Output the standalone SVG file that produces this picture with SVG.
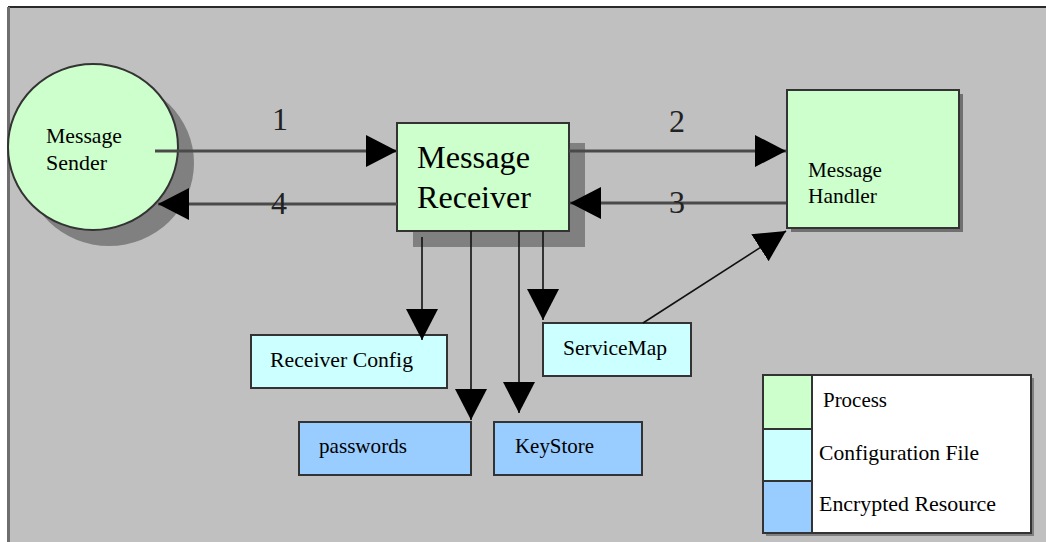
<svg xmlns="http://www.w3.org/2000/svg" width="1046" height="542" viewBox="0 0 1046 542">
  <style>
    .lbl { font-family: "Liberation Serif", "Times New Roman", serif; fill: #000; }
    .sm { font-size: 21px; }
    .big { font-size: 32px; }
    .num { font-size: 32px; fill: #222; }
    .process { fill: #CCFFCC; stroke: #333; stroke-width: 2; }
    .config { fill: #CCFFFF; stroke: #333; stroke-width: 2; }
    .secret { fill: #99CCFF; stroke: #333; stroke-width: 2; }
    .shadow { fill: #808080; }
    .flow { stroke: #4a4a4a; stroke-width: 3; fill: none; }
    .link { stroke: #111; stroke-width: 1.6; fill: none; }
  </style>
  <defs>
    <marker id="ah" markerUnits="userSpaceOnUse" markerWidth="32" markerHeight="34" refX="31" refY="16" orient="auto">
      <path d="M0,0 L31,16 L0,32 Z" fill="#000"/>
    </marker>
  </defs>

  <!-- page and panel -->
  <rect x="0" y="0" width="1046" height="542" fill="#fff"/>
  <rect x="8" y="7" width="1040" height="540" fill="#C0C0C0"/>
  <line x1="8" y1="7" x2="1046" y2="7" stroke="#2a2a2a" stroke-width="2"/>
  <line x1="8.5" y1="7" x2="8.5" y2="542" stroke="#6e6e6e" stroke-width="3"/>

  <!-- Message Sender -->
  <g id="sender">
    <ellipse cx="109" cy="163" rx="85" ry="83" class="shadow"/>
    <ellipse cx="93" cy="147" rx="85" ry="83" class="process"/>
    <text class="lbl sm" x="46" y="143" textLength="76" lengthAdjust="spacingAndGlyphs">Message</text>
    <text class="lbl sm" x="46" y="170" textLength="61" lengthAdjust="spacingAndGlyphs">Sender</text>
  </g>

  <!-- Message Receiver -->
  <g id="receiver">
    <rect x="413" y="143" width="172" height="104" class="shadow"/>
    <rect x="397" y="123" width="172" height="108" class="process"/>
    <text class="lbl big" x="417" y="168" textLength="113" lengthAdjust="spacingAndGlyphs">Message</text>
    <text class="lbl big" x="417" y="208" textLength="114" lengthAdjust="spacingAndGlyphs">Receiver</text>
  </g>

  <!-- Message Handler -->
  <g id="handler">
    <rect x="791" y="94" width="172" height="138" fill="#707070"/>
    <rect x="787" y="90" width="172" height="138" class="process"/>
    <text class="lbl sm" x="808" y="177" textLength="74" lengthAdjust="spacingAndGlyphs">Message</text>
    <text class="lbl sm" x="808" y="203" textLength="69" lengthAdjust="spacingAndGlyphs">Handler</text>
  </g>

  <!-- Configuration files -->
  <g id="receiver-config">
    <rect x="251" y="335" width="196" height="53" class="config"/>
    <text class="lbl sm" x="270" y="367" textLength="143" lengthAdjust="spacingAndGlyphs">Receiver Config</text>
  </g>
  <g id="service-map">
    <rect x="543" y="323" width="148" height="53" class="config"/>
    <text class="lbl sm" x="563" y="355" textLength="104" lengthAdjust="spacingAndGlyphs">ServiceMap</text>
  </g>

  <!-- Encrypted resources -->
  <g id="passwords">
    <rect x="299" y="422" width="172" height="53" class="secret"/>
    <text class="lbl sm" x="319" y="453" textLength="88" lengthAdjust="spacingAndGlyphs">passwords</text>
  </g>
  <g id="keystore">
    <rect x="494" y="422" width="148" height="53" class="secret"/>
    <text class="lbl sm" x="515" y="453" textLength="79" lengthAdjust="spacingAndGlyphs">KeyStore</text>
  </g>

  <!-- Connectors -->
  <g id="connectors">
    <line x1="155" y1="151" x2="397" y2="151" class="flow" marker-end="url(#ah)"/>
    <line x1="569" y1="151" x2="786" y2="151" class="flow" marker-end="url(#ah)"/>
    <line x1="786" y1="203" x2="570" y2="203" class="flow" marker-end="url(#ah)"/>
    <line x1="397" y1="204" x2="158" y2="204" class="flow" marker-end="url(#ah)"/>
    <line x1="422" y1="237" x2="422" y2="340" class="link" marker-end="url(#ah)"/>
    <line x1="471" y1="231" x2="471" y2="420" class="link" marker-end="url(#ah)"/>
    <line x1="519" y1="231" x2="519" y2="413" class="link" marker-end="url(#ah)"/>
    <line x1="543" y1="231" x2="543" y2="320" class="link" marker-end="url(#ah)"/>
    <line x1="643" y1="323" x2="786" y2="231" class="link" marker-end="url(#ah)"/>
    <text class="lbl num" x="272" y="130">1</text>
    <text class="lbl num" x="669" y="132">2</text>
    <text class="lbl num" x="669" y="213">3</text>
    <text class="lbl num" x="271" y="214">4</text>
  </g>

  <!-- Legend -->
  <g id="legend">
    <rect x="766" y="378" width="268" height="158" class="shadow"/>
    <rect x="763" y="375" width="268" height="158" fill="#fff" stroke="#333" stroke-width="2"/>
    <rect x="763" y="375" width="49" height="54" class="process"/>
    <rect x="763" y="429" width="49" height="52" class="config"/>
    <rect x="763" y="481" width="49" height="52" class="secret"/>
    <text class="lbl sm" x="823" y="407" textLength="64" lengthAdjust="spacingAndGlyphs">Process</text>
    <text class="lbl sm" x="819" y="460" textLength="160" lengthAdjust="spacingAndGlyphs">Configuration File</text>
    <text class="lbl sm" x="819" y="511" textLength="177" lengthAdjust="spacingAndGlyphs">Encrypted Resource</text>
  </g>
</svg>
